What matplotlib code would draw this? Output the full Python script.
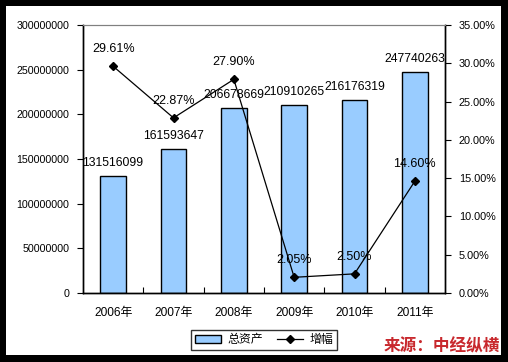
#!/usr/bin/env python3
"""Total assets (bars) and growth rate (line), 2006-2011."""

import matplotlib
matplotlib.use('Agg')
import matplotlib.pyplot as plt
from matplotlib.patches import Rectangle
from matplotlib.ticker import FuncFormatter, MultipleLocator

plt.rcParams['font.family'] = ['Liberation Sans', 'Noto Sans CJK SC', 'DejaVu Sans']

years = ['2006年', '2007年', '2008年', '2009年', '2010年', '2011年']
assets = [131516099, 161593647, 206678669, 210910265, 216176319, 247740263]
growth = [29.61, 22.87, 27.90, 2.05, 2.50, 14.60]


def main():
  fig = plt.figure(figsize=(5.08, 3.62), dpi=100, facecolor='black')
  # white chart area inside the black frame
  fig.patches.append(Rectangle((6 / 508, 7 / 362), 495 / 508, 349 / 362,
                               transform=fig.transFigure, facecolor='white',
                               edgecolor='none', zorder=0))

  ax = fig.add_axes([83 / 508, 69 / 362, 362 / 508, 268 / 362])
  ax2 = ax.twinx()
  ax.set_zorder(1)
  ax2.set_zorder(2)
  ax.patch.set_visible(False)
  ax2.patch.set_visible(False)

  x = list(range(len(years)))
  bars = ax.bar(x, assets, width=0.42, color='#99CCFF', edgecolor='black',
                linewidth=1, label='总资产')
  for xi, v in zip(x, assets):
    ax.annotate(str(v), (xi, v), xytext=(0, 5), textcoords='offset points',
                ha='center', va='bottom', fontsize=8.8, color='black')

  line, = ax2.plot(x, growth, color='black', linewidth=0.9, marker='D',
                   markersize=3.6, label='增幅')
  for xi, g in zip(x, growth):
    ax2.annotate(f'{g:.2f}%', (xi, g), xytext=(0, 8), textcoords='offset points',
                 ha='center', va='bottom', fontsize=9, color='black')

  ax.set_xlim(-0.5, len(years) - 0.5)
  ax.set_ylim(0, 300000000)
  ax.yaxis.set_major_locator(MultipleLocator(50000000))
  ax.yaxis.set_major_formatter(FuncFormatter(lambda v, p: f'{int(v)}'))
  ax2.set_ylim(0, 35)
  ax2.yaxis.set_major_locator(MultipleLocator(5))
  ax2.yaxis.set_major_formatter(FuncFormatter(lambda v, p: f'{v:.2f}%'))

  ax.set_xticks(x)
  ax.set_xticklabels(years, fontsize=8.6)
  ax.set_xticks([i + 0.5 for i in x[:-1]], minor=True)
  ax.tick_params(axis='x', which='major', length=0, pad=10)
  ax.tick_params(axis='x', which='minor', direction='in', length=4, width=0.8)
  ax.tick_params(axis='y', direction='out', length=4, width=0.8, labelsize=7.7, pad=6)
  ax2.tick_params(axis='y', direction='out', length=4, width=0.8, labelsize=7.8, pad=6)

  for a in (ax, ax2):
    a.spines['top'].set_color('#808080')
    a.spines['top'].set_linewidth(0.8)
    for s in ('left', 'right', 'bottom'):
      a.spines[s].set_linewidth(1)
      a.spines[s].set_color('black')

  leg = fig.legend([bars, line], ['总资产', '增幅'], loc='center',
                   bbox_to_anchor=(264 / 508, 22 / 362), ncol=2, fontsize=8.6,
                   frameon=True, fancybox=False, edgecolor='black',
                   handlelength=2.2, handletextpad=0.5, columnspacing=1.2,
                   borderpad=0.35)
  leg.get_frame().set_linewidth(1)

  fig.text(500 / 508, 7 / 362, '来源：中经纵横', ha='right', va='bottom',
           fontsize=12, fontweight='bold', color='#C8282D',
           family=['Noto Sans CJK SC', 'DejaVu Sans'])

  fig.savefig('out.png', dpi=100, facecolor='black')


if __name__ == "__main__":
  main()
